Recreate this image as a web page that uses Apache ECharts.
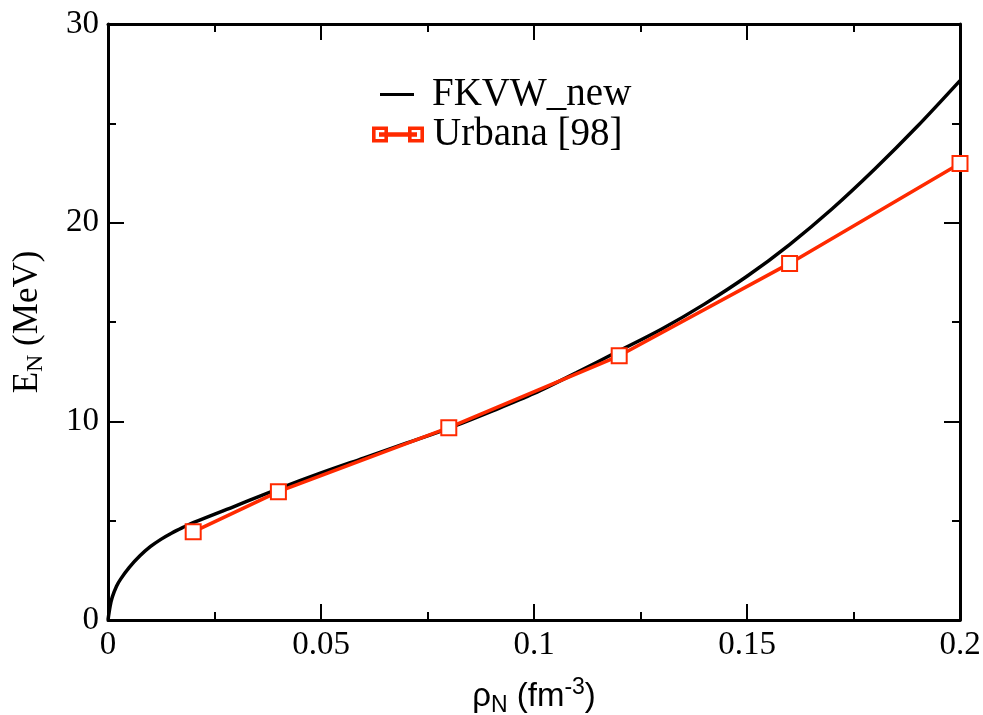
<!DOCTYPE html>
<html>
<head>
<meta charset="utf-8">
<script src="https://cdn.jsdelivr.net/npm/echarts@6/dist/echarts.min.js"></script>
<style>
html, body { margin: 0; padding: 0; background: #fff; }
#main { width: 983px; height: 715px; }
</style>
</head>
<body>
<div id="main"></div>
<script>
// FKVW_new curve
var fkvwRho = [0, 0.0005, 0.001, 0.002, 0.003, 0.005, 0.0075, 0.01, 0.0125, 0.015, 0.0175, 0.02, 0.03, 0.04, 0.05, 0.06, 0.07,
	0.08, 0.09, 0.1, 0.11, 0.12, 0.13, 0.14, 0.15, 0.16, 0.17, 0.18, 0.19, 0.2];
var fkvwE = [0, 0.7, 1.15, 1.7, 2.07, 2.65, 3.23, 3.7, 4.07, 4.38, 4.65, 4.9, 5.75, 6.6, 7.4, 8.15, 8.9,
	9.65, 10.5, 11.4, 12.45, 13.55, 14.65, 15.9, 17.3, 18.9, 20.7, 22.7, 24.85, 27.15];
// Urbana [98] points
var urbanaRho = [0.02, 0.04, 0.08, 0.12, 0.16, 0.2];
var urbanaE = [4.44, 6.46, 9.68, 13.3, 17.95, 22.98];

var serif = 'Liberation Serif';
var sans = 'Liberation Sans';
var red = '#ff2a00';

var pairs = function(xs, ys) {
	var out = [];
	for (var i = 0; i < xs.length; i++) {
		out.push([xs[i], ys[i]]);
	}
	return out;
};

//坐标轴公共样式
var axisCommon = function(extra) {
	var a = {
		type: 'value',
		axisLine: { show: true, onZero: false, lineStyle: { color: '#000', width: 3 } },
		axisTick: { show: true, inside: true, length: 16, lineStyle: { color: '#000', width: 2 } },
		minorTick: { show: true, splitNumber: 2, length: 8, lineStyle: { color: '#000', width: 2 } },
		splitLine: { show: false },
		minorSplitLine: { show: false }
	};
	for (var k in extra) a[k] = extra[k];
	return a;
};

var chart = echarts.init(document.getElementById('main'));
var option = {
	animation: false,
	grid: { left: 108, right: 23, top: 24, bottom: 95, outerBoundsMode: 'none' },
	legend: [{
		left: 380,
		top: 75,
		padding: 0,
		data: [{ name: 'FKVW_new', icon: 'path://M0,0 H34 V3 H0 Z' }],
		itemWidth: 34,
		itemHeight: 3,
		textStyle: { fontFamily: serif, fontSize: 39, color: '#000', padding: [0, 0, 0, 13] }
	}, {
		left: 372,
		top: 115,
		padding: 0,
		data: [{
			name: 'Urbana [98]',
			icon: 'path://M0,0 H14 V14 H0 Z M1.6,1.6 V12.4 H12.4 V1.6 Z M36,0 H50 V14 H36 Z M37.6,1.6 V12.4 H48.4 V1.6 Z M7,5.7 H43 V8.3 H7 Z'
		}],
		itemWidth: 50,
		itemHeight: 14,
		textStyle: { fontFamily: serif, fontSize: 39, color: '#000', padding: [0, 0, 0, 5] }
	}],
	xAxis: [
		axisCommon({
			position: 'bottom', min: 0, max: 0.2, interval: 0.05,
			axisLabel: { fontFamily: serif, fontSize: 33, color: '#000', margin: 9 },
			name: '{a|ρ}{sub|N}{a| (fm}{sup|-3}{a|)}',
			nameLocation: 'middle',
			nameGap: 56,
			nameTextStyle: {
				rich: {
					a: { fontFamily: sans, fontSize: 33, color: '#000' },
					sub: { fontFamily: sans, fontSize: 23, color: '#000', verticalAlign: 'bottom', padding: [18, 0, 0, 0] },
					sup: { fontFamily: sans, fontSize: 23, color: '#000', verticalAlign: 'top', padding: [0, 0, 14, 0] }
				}
			}
		}),
		axisCommon({
			position: 'top', min: 0, max: 0.2, interval: 0.05,
			axisLabel: { show: false }
		})
	],
	yAxis: [
		axisCommon({
			position: 'left', min: 0, max: 30, interval: 10,
			axisLabel: { fontFamily: serif, fontSize: 33, color: '#000', margin: 9 },
			name: '{a|E}{sub|N}{a| (MeV)}',
			nameLocation: 'middle',
			nameGap: 60,
			nameTextStyle: {
				rich: {
					a: { fontFamily: serif, fontSize: 35, color: '#000' },
					sub: { fontFamily: serif, fontSize: 24, color: '#000', verticalAlign: 'bottom', padding: [16, 0, 0, 0] }
				}
			}
		}),
		axisCommon({
			position: 'right', min: 0, max: 30, interval: 10,
			axisLabel: { show: false }
		})
	],
	series: [{
		name: 'FKVW_new',
		type: 'line',
		data: pairs(fkvwRho, fkvwE),
		smooth: 0.3,
		showSymbol: false,
		lineStyle: { color: '#000', width: 3.5 },
		itemStyle: { color: '#000' },
		z: 2
	}, {
		name: 'Urbana [98]',
		type: 'line',
		data: pairs(urbanaRho, urbanaE),
		symbol: 'emptyRect',
		symbolSize: 15,
		lineStyle: { color: red, width: 3.5 },
		itemStyle: { color: red, borderColor: red, borderWidth: 2 },
		z: 3
	}]
};
chart.setOption(option);
</script>
</body>
</html>
